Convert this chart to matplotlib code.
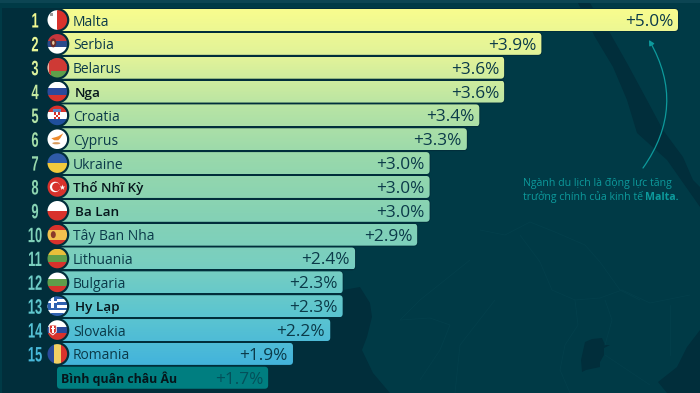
import numpy as np
import matplotlib
matplotlib.use("Agg")
import matplotlib.pyplot as plt
from matplotlib.colors import LinearSegmentedColormap
from matplotlib.patches import Circle, Ellipse, FancyArrowPatch, FancyBboxPatch, Polygon, Rectangle
from matplotlib.patheffects import AbstractPathEffect
from matplotlib.transforms import Affine2D

# Data
countries = ["Malta", "Serbia", "Belarus", "Nga", "Croatia", "Cyprus", "Ukraine", "Thổ Nhĩ Kỳ",
             "Ba Lan", "Tây Ban Nha", "Lithuania", "Bulgaria", "Hy Lạp", "Slovakia", "Romania"]
growth = [5.0, 3.9, 3.6, 3.6, 3.4, 3.3, 3.0, 3.0, 3.0, 2.9, 2.4, 2.3, 2.3, 2.2, 1.9]
avg_label = "Bình quân châu Âu"
avg_value = 1.7
bold_names = ["Nga", "Thổ Nhĩ Kỳ", "Ba Lan", "Hy Lạp"]
note_lines = ["Ngành du lịch là động lực tăng", "trưởng chính của kinh tế "]
note_bold = "Malta."

# stripes: colours top to bottom (h) or left to right (v)
flag_stripes = {
    "Malta": ("v", ["#ffffff", "#d8322c"]),
    "Serbia": ("h", ["#c6363c", "#2b4a8c", "#ffffff"]),
    "Belarus": ("h", ["#ce3a35", "#ce3a35", "#5f9e4a"]),
    "Nga": ("h", ["#ffffff", "#2b4a9b", "#d8322c"]),
    "Croatia": ("h", ["#d8322c", "#ffffff", "#1f4f9c"]),
    "Cyprus": ("h", ["#ffffff"]),
    "Ukraine": ("h", ["#2f5ba8", "#f2c93c"]),
    "Thổ Nhĩ Kỳ": ("h", ["#d8322c"]),
    "Ba Lan": ("h", ["#ffffff", "#d8322c"]),
    "Tây Ban Nha": ("h", ["#d8322c", "#f2c14e", "#f2c14e", "#d8322c"]),
    "Lithuania": ("h", ["#e8bf3a", "#5f9e4a", "#d8322c"]),
    "Bulgaria": ("h", ["#ffffff", "#5f9e4a", "#d8322c"]),
    "Hy Lạp": ("h", ["#2f62b0", "#ffffff", "#2f62b0", "#ffffff", "#2f62b0", "#ffffff", "#2f62b0"]),
    "Slovakia": ("h", ["#ffffff", "#2b4a9b", "#d8322c"]),
    "Romania": ("v", ["#2b4a9b", "#f2cf63", "#d8322c"]),
}

LAND = "#003a46"
SEA = "#012e3b"
TEXT = "#0b3a49"
FONT = ["Open Sans", "Noto Sans", "DejaVu Sans"]
plt.rcParams["font.family"] = FONT

cmap = LinearSegmentedColormap.from_list("bars", ["#f8fc8e", "#dff29a", "#b5e3a5", "#97d8ac", "#86d2b4",
                                                  "#79cfc0", "#5cc5d0", "#43b4dc"])


class Squeeze(AbstractPathEffect):
    # narrows a text around its own centre, no condensed font is installed
    def __init__(self, sx):
        super().__init__()
        self.sx = sx

    def draw_path(self, renderer, gc, tpath, affine, rgbFace=None):
        ext = tpath.get_extents()
        cx = (ext.x0 + ext.x1) / 2
        squeeze = Affine2D().translate(-cx, 0).scale(self.sx, 1).translate(cx, 0)
        renderer.draw_path(gc, tpath, squeeze + affine, rgbFace)


fig = plt.figure(figsize=(7, 3.93), dpi=100)
fig.patch.set_facecolor(LAND)

# background map, in pixels
bg = fig.add_axes([0, 0, 1, 1], zorder=0)
bg.set_xlim(0, 700)
bg.set_ylim(393, 0)
bg.axis("off")
bg.add_patch(Rectangle((0, 0), 700, 3, color="#0c4553", lw=0))
bg.add_patch(Polygon([(2, 8), (300, 8), (300, 287), (343, 290), (360, 287), (370, 303), (372, 317), (367, 337),
                      (362, 350), (373, 373), (390, 393), (2, 393)], color=SEA, lw=0))
bg.add_patch(Polygon([(578, 3), (590, 3), (600, 20), (610, 33), (627, 63), (647, 100), (663, 130), (683, 157), (693, 180),
                      (700, 187), (700, 207), (693, 197), (667, 160), (637, 133), (627, 100), (613, 67), (595, 37)],
                     color=SEA, lw=0))
bg.add_patch(Polygon([(700, 330), (687, 347), (677, 367), (658, 382), (667, 393), (700, 393)], color=SEA, lw=0))
bg.add_patch(Polygon([(585, 342), (592, 339), (602, 338), (605, 345), (610, 345), (604, 348), (604, 355), (600, 362),
                      (600, 367), (586, 370), (582, 372), (581, 360)], color=SEA, lw=0))
borders = [[(480, 230), (505, 235), (530, 222), (555, 232), (585, 245), (600, 262), (620, 290), (640, 300)],
           [(520, 235), (540, 262), (552, 290), (575, 300)],
           [(575, 300), (600, 298), (622, 290), (650, 303), (690, 295)],
           [(575, 300), (578, 325), (565, 345), (560, 370), (570, 393)],
           [(605, 300), (612, 320), (605, 345)],
           [(605, 355), (650, 385)],
           [(670, 305), (670, 355)],
           [(400, 320), (430, 318), (450, 325), (440, 350), (420, 380)],
           [(470, 260), (420, 300), (400, 320)],
           [(495, 300), (460, 345), (455, 393)]]
for line in borders:
    xs, ys = zip(*line)
    bg.plot(xs, ys, color="#033f4b", lw=0.6)

# bars: value 0 sits at x=57 px, one percent is 124.2 px
ax = fig.add_axes([0, 0, 1, 1], zorder=1)
ax.patch.set_alpha(0)
row_h = 23.85
px = 124.2
xlim = (-57 / px, (700 - 57) / px)
ylim = ((393 - 20) / row_h, -20 / row_h)
ax.axis("off")
bar_h = 22 / row_h
n = len(countries)
for i, (name, val) in enumerate(zip(countries, growth)):
    under = FancyBboxPatch((0, i - bar_h / 2), val, bar_h, boxstyle="round,pad=0,rounding_size=0.028",
                           facecolor=SEA, edgecolor=SEA, lw=1.3, zorder=0.5)
    under.set_mutation_aspect(px / row_h)
    ax.add_patch(under)
    patch = FancyBboxPatch((0, i - bar_h / 2), val, bar_h, boxstyle="round,pad=0,rounding_size=0.028",
                           facecolor="none", edgecolor="none")
    patch.set_mutation_aspect(px / row_h)
    ax.add_patch(patch)
    grad = np.linspace(i / n, (i + 1) / n, 32).reshape(-1, 1)
    im = ax.imshow(grad, cmap=cmap, vmin=0, vmax=1, extent=(0, val, i + bar_h / 2, i - bar_h / 2),
                   aspect="auto", zorder=1)
    im.set_clip_path(patch)
    ax.annotate(f"+{val:.1f}%", (val, i), xytext=(-3.6, 0), textcoords="offset points", ha="right",
                va="center_baseline", fontsize=12.4, color=TEXT, zorder=3)
    is_bold = name in bold_names
    label_x = 16 if name in ("Thổ Nhĩ Kỳ",) or not is_bold else 18
    ax.text(label_x / px, i, name, ha="left", va="center_baseline", fontsize=9.7 if is_bold else 10, zorder=3,
            color="#06161c" if is_bold else TEXT, fontweight="semibold" if is_bold else "normal")
    num = ax.text(-22 / px, i, str(i + 1), ha="center", va="center_baseline", fontsize=15, fontweight="bold",
                  family=["Liberation Sans", "DejaVu Sans"], color=cmap((i + 0.5) / n))
    num.set_path_effects([Squeeze(0.62)])

avg_row = n
avg = FancyBboxPatch((0, avg_row - bar_h / 2), avg_value, bar_h, boxstyle="round,pad=0,rounding_size=0.028",
                     facecolor="#007e80", edgecolor="none", zorder=1)
avg.set_mutation_aspect(px / row_h)
ax.add_patch(avg)
ax.text(4 / px, avg_row, avg_label, ha="left", va="center_baseline", fontsize=8.9, fontweight="bold", color="#06161c",
        zorder=3)
ax.annotate(f"+{avg_value:.1f}%", (avg_value, avg_row), xytext=(-3.6, 0), textcoords="offset points", ha="right",
            va="center_baseline", fontsize=12.4, color="#04505a", zorder=3)
ax.set_xlim(xlim)
ax.set_ylim(ylim)

# flags and note, in pixels
top = fig.add_axes([0, 0, 1, 1], zorder=2)
top.patch.set_alpha(0)
top.set_xlim(0, 700)
top.set_ylim(393, 0)
top.axis("off")
fx = 57.3


def flag_detail(name, cy, clip):
    # small emblems on top of the stripes
    parts = []
    if name == "Malta":
        parts.append(Rectangle((fx - 7, cy - 7), 3, 3, facecolor="#9a9a9a", lw=0))
    elif name == "Serbia":
        parts.append(Ellipse((fx - 4, cy - 1), 6, 9, facecolor="#6b2a2a", lw=0))
        parts.append(Ellipse((fx - 4, cy - 1), 2.5, 4, facecolor="#e8c9a0", lw=0))
    elif name == "Belarus":
        parts.append(Rectangle((fx - 10, cy - 10), 4, 20, facecolor="#e9b7a8", lw=0))
        parts.append(Rectangle((fx - 8, cy - 10), 2, 20, facecolor="#ce3a35", lw=0))
    elif name == "Croatia":
        parts.append(Rectangle((fx - 3, cy - 3), 6, 7, facecolor="#ffffff", lw=0))
        for a in range(3):
            for b in range(3):
                if (a + b) % 2 == 0:
                    parts.append(Rectangle((fx - 3 + 2 * a, cy - 3 + 7 / 3 * b), 2, 7 / 3, facecolor="#d8322c", lw=0))
        parts.append(Rectangle((fx - 4, cy - 6), 8, 2.4, facecolor="#5b86c4", lw=0))
    elif name == "Cyprus":
        parts.append(Polygon([(fx - 6, cy - 1), (fx - 2, cy - 2), (fx + 1, cy - 3), (fx + 6, cy - 6), (fx + 3, cy - 1),
                              (fx + 1, cy + 1), (fx - 3, cy + 1)], facecolor="#ee8a2c", lw=0))
        parts.append(Ellipse((fx - 1, cy + 4), 8, 2.2, facecolor="#d89a5c", lw=0))
    elif name == "Thổ Nhĩ Kỳ":
        parts.append(Circle((fx - 2.2, cy), 5.2, facecolor="#ffffff", lw=0))
        parts.append(Circle((fx - 1, cy), 4.2, facecolor="#d8322c", lw=0))
    elif name == "Tây Ban Nha":
        parts.append(Ellipse((fx - 4, cy), 5, 7, facecolor="#8a3a2a", lw=0))
    elif name == "Hy Lạp":
        parts.append(Rectangle((fx - 10, cy - 10), 10, 11.5, facecolor="#2f62b0", lw=0))
        parts.append(Rectangle((fx - 10, cy - 5.5), 10, 2.6, facecolor="#ffffff", lw=0))
        parts.append(Rectangle((fx - 6.3, cy - 10), 2.6, 11.5, facecolor="#ffffff", lw=0))
    elif name == "Slovakia":
        parts.append(Polygon([(fx - 8, cy - 5), (fx - 1, cy - 5), (fx - 1, cy + 2), (fx - 4.5, cy + 5), (fx - 8, cy + 2)],
                             facecolor="#d8322c", edgecolor="#ffffff", lw=0.6))
        parts.append(Rectangle((fx - 5, cy - 4), 1.2, 7, facecolor="#ffffff", lw=0))
        parts.append(Rectangle((fx - 6.8, cy - 2), 4.8, 1.2, facecolor="#ffffff", lw=0))
    for p in parts:
        p.set_zorder(3)
        top.add_patch(p)
        p.set_clip_path(clip)
    if name == "Thổ Nhĩ Kỳ":
        top.scatter([fx + 4.2], [cy], marker="*", s=18, color="#ffffff", lw=0, zorder=4)


for i, name in enumerate(countries):
    cy = 20 + row_h * i
    top.add_patch(Circle((fx, cy), 12, facecolor=SEA, edgecolor="none", zorder=1))
    clip = Circle((fx, cy), 9.8, transform=top.transData)
    kind, cols = flag_stripes[name]
    k = len(cols)
    for j, c in enumerate(cols):
        if kind == "h":
            rect = Rectangle((fx - 10, cy - 10 + 20 * j / k), 20, 20 / k + 0.2, facecolor=c, lw=0, zorder=2)
        else:
            rect = Rectangle((fx - 10 + 20 * j / k, cy - 10), 20 / k + 0.2, 20, facecolor=c, lw=0, zorder=2)
        top.add_patch(rect)
        rect.set_clip_path(clip)
    flag_detail(name, cy, clip)

note_color = "#0d9a9c"
top.text(523, 183.5, note_lines[0], fontsize=7.6, color=note_color, va="center")
top.text(523, 197, note_lines[1], fontsize=7.6, color=note_color, va="center")
top.text(645, 197, note_bold, fontsize=7.6, color=note_color, fontweight="bold", va="center")
top.add_patch(FancyArrowPatch((643, 168), (649, 40), connectionstyle="arc3,rad=0.32",
                              arrowstyle="-|>,head_length=3,head_width=1.6",
                              color=note_color, lw=0.9, shrinkA=0, shrinkB=0))

fig.savefig("out.png", dpi=100, facecolor=fig.get_facecolor())
